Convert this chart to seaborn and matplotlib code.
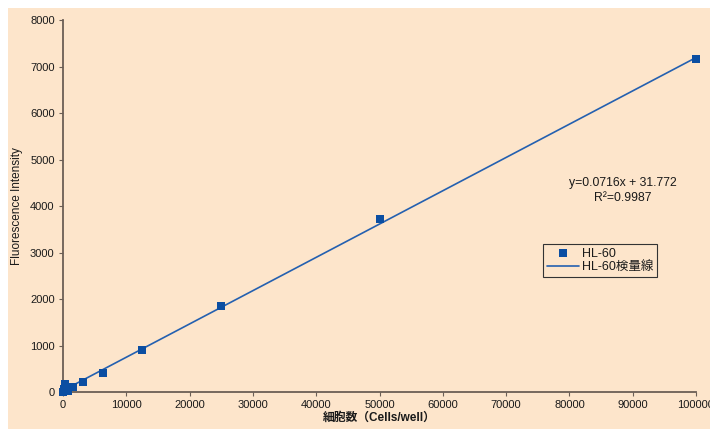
import matplotlib
matplotlib.use("Agg")
import matplotlib.pyplot as plt
import seaborn as sns
import pandas as pd
import numpy as np
from matplotlib.patches import Rectangle

cells = [0, 195, 390, 781, 1562, 3125, 6250, 12500, 25000, 50000, 100000]
fluor = [0, 60, 180, 30, 100, 210, 410, 900, 1860, 3730, 7160]
slope = 0.0716
intercept = 31.772
fit_x = [0, 100000]
eq_text = "y=0.0716x + 31.772"
r2_text = "R²=0.9987"
x_ticks = [0, 10000, 20000, 30000, 40000, 50000, 60000, 70000, 80000, 90000, 100000]
y_ticks = [0, 1000, 2000, 3000, 4000, 5000, 6000, 7000, 8000]

sns.set_style("ticks")
plt.rcParams['font.family'] = ['Liberation Sans', 'Noto Sans CJK JP', 'DejaVu Sans']

peach = "#FDE5CB"
spine_col = "#6B5E55"
mk_col = "#0B4EA2"
ln_col = "#2460B0"
txt_col = "#1a1a1a"

fig = plt.figure(figsize=(7.10, 4.29), dpi=100)
fig.patch.set_facecolor("white")
fig.patches.append(Rectangle((8/710, 0), 702/710, 421/429, transform=fig.transFigure,
                             facecolor=peach, edgecolor="none", zorder=-10))
ax = fig.add_axes([63/710, 1-392/429, 633/710, 372/429])
ax.set_facecolor("none")

df = pd.DataFrame({"cells": cells, "fluor": fluor})
fit_df = pd.DataFrame({"x": fit_x, "y": [slope*v + intercept for v in fit_x]})

sns.lineplot(data=fit_df, x="x", y="y", ax=ax, color=ln_col, linewidth=1.2,
             label="HL-60検量線", zorder=2)
sns.scatterplot(data=df, x="cells", y="fluor", ax=ax, marker="s", s=26,
                color=mk_col, edgecolor=mk_col, linewidth=0, label="HL-60", zorder=3,
                clip_on=False)

ax.set_xlim(0, 100000)
ax.set_ylim(0, 8000)
ax.set_xticks(x_ticks)
ax.set_yticks(y_ticks)
ax.tick_params(labelsize=8, length=3, width=0.8, color=spine_col, pad=3, labelcolor=txt_col)
for s in ["top", "right"]:
    ax.spines[s].set_visible(False)
for s in ["left", "bottom"]:
    ax.spines[s].set_color(spine_col)
    ax.spines[s].set_linewidth(1.3)

ax.set_xlabel("細胞数（Cells/well）", fontsize=8.5, fontweight="bold", labelpad=1, color=txt_col)
ax.set_ylabel("Fluorescence Intensity", fontsize=8.5, labelpad=5, color=txt_col)

ax.text(0.885, (392-183)/372, eq_text, transform=ax.transAxes, fontsize=8.8,
        ha="center", va="center", color=txt_col)
ax.text(0.885, (392-198)/372, r2_text, transform=ax.transAxes, fontsize=8.8,
        ha="center", va="center", color=txt_col)

handles, labels = ax.get_legend_handles_labels()
order = [labels.index("HL-60"), labels.index("HL-60検量線")]
leg = ax.legend([handles[i] for i in order], [labels[i] for i in order],
                loc="upper left", bbox_to_anchor=((543-63)/633, (392-244)/372),
                borderaxespad=0, fontsize=9, frameon=True, fancybox=False,
                handlelength=2.6, handletextpad=0.2, borderpad=0.3, labelspacing=0.15)
for t in leg.get_texts():
    t.set_color(txt_col)
leg.get_frame().set_edgecolor("#333333")
leg.get_frame().set_facecolor(peach)
leg.get_frame().set_linewidth(0.8)
leg.get_frame().set_alpha(1)

fig.savefig("out.png", dpi=100)
